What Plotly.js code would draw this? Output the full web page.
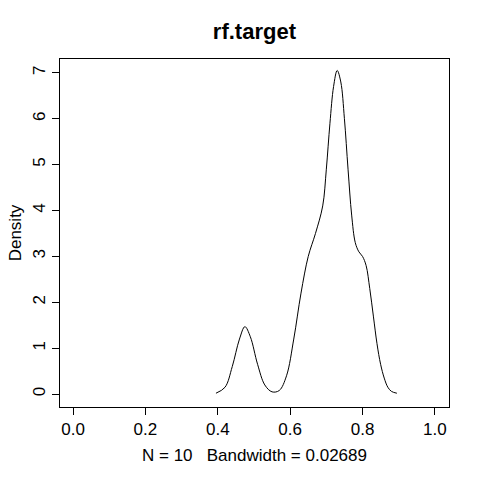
<!DOCTYPE html>
<html>
<head>
<script src="https://cdn.plot.ly/plotly-3.0.1.min.js"></script>
<style>body{margin:0}</style>
</head>
<body>
<div id="plot" style="width:480px;height:480px"></div>
<script>
'use strict';

// density curve
let densX = [0.395, 0.42, 0.44, 0.46, 0.475, 0.49, 0.51, 0.53, 0.55, 0.57, 0.59, 0.61, 0.63, 0.65,
    0.67, 0.69, 0.70, 0.71, 0.72, 0.73, 0.74, 0.75, 0.76, 0.77, 0.78, 0.79, 0.80, 0.81, 0.82,
    0.83, 0.84, 0.85, 0.86, 0.87, 0.88, 0.895];
let densY = [0.02, 0.15, 0.6, 1.2, 1.47, 1.25, 0.65, 0.2, 0.05, 0.08, 0.4, 1.2, 2.2, 3.0,
    3.5, 4.1, 4.9, 5.9, 6.7, 7.05, 6.8, 6.0, 4.9, 3.9, 3.3, 3.1, 3.0, 2.8, 2.3,
    1.7, 1.1, 0.65, 0.35, 0.15, 0.06, 0.02];
let xTicks = [0, 0.2, 0.4, 0.6, 0.8, 1];
let xTickText = ['0.0', '0.2', '0.4', '0.6', '0.8', '1.0'];
let yTicks = [0, 1, 2, 3, 4, 5, 6, 7];

let font = {family: 'Liberation Sans, Arial, sans-serif', size: 17, color: '#000'};

let trace = {
    x: densX,
    y: densY,
    type: 'scatter',
    mode: 'lines',
    line: {color: '#000', width: 1, shape: 'spline'},
    hoverinfo: 'none'
};

let axis = {
    showgrid: false,
    zeroline: false,
    showline: true,
    mirror: true,
    linecolor: '#000',
    linewidth: 1,
    ticks: 'outside',
    ticklen: 7,
    tickcolor: '#000',
    tickfont: font
};

let layout = {
    width: 480,
    height: 480,
    margin: {l: 60, r: 31, t: 59, b: 73},
    paper_bgcolor: '#fff',
    plot_bgcolor: '#fff',
    showlegend: false,
    font: font,
    title: {
        text: '<b>rf.target</b>',
        font: {family: 'Liberation Sans, Arial, sans-serif', size: 22, color: '#000'},
        x: 0.53, xanchor: 'center', y: 0.935, yanchor: 'middle'
    },
    xaxis: Object.assign({}, axis, {
        range: [-0.036, 1.039],
        tickvals: xTicks,
        ticktext: xTickText,
        title: {text: 'N = 10   Bandwidth = 0.02689', font: font, standoff: 10}
    }),
    yaxis: Object.assign({}, axis, {
        range: [-0.28, 7.3],
        tickvals: yTicks,
        tickangle: -90,
        title: {text: 'Density', font: font, standoff: 4}
    })
};

Plotly.newPlot('plot', [trace], layout, {displayModeBar: false, staticPlot: true});
</script>
</body>
</html>
